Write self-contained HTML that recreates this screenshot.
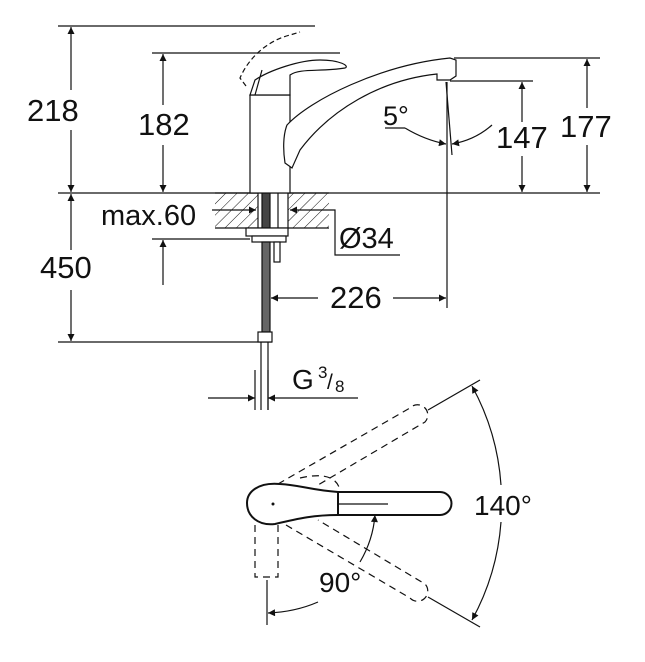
<!DOCTYPE html>
<html><head><meta charset="utf-8"><style>
html,body{margin:0;padding:0;background:#fff;}
svg{display:block;}
text{font-family:"Liberation Sans",sans-serif;fill:#111;}
</style></head><body>
<svg width="645" height="662" viewBox="0 0 645 662" xmlns="http://www.w3.org/2000/svg">
<defs>
<marker id="a" viewBox="0 0 10 10" refX="10" refY="5" markerWidth="14" markerHeight="7" markerUnits="userSpaceOnUse" orient="auto"><path d="M0,0 L10,5 L0,10z" fill="#111"/></marker>
<marker id="b" viewBox="0 0 10 10" refX="10" refY="5" markerWidth="18" markerHeight="7" orient="auto" markerUnits="userSpaceOnUse"><path d="M0,0 L10,5 L0,10z" fill="#111"/></marker>
<pattern id="h" width="8" height="8" patternUnits="userSpaceOnUse" patternTransform="rotate(45)"><line x1="0" y1="0" x2="0" y2="8" stroke="#111" stroke-width="1"/></pattern>
</defs>
<g stroke="#111" stroke-width="1.2" fill="none">
<line x1="58" y1="26" x2="315" y2="26"/>
<line x1="152" y1="53" x2="340" y2="53"/>
<line x1="454" y1="58" x2="600" y2="58"/>
<line x1="450" y1="81" x2="533" y2="81"/>
<line x1="58" y1="193" x2="600" y2="193"/>
<line x1="58" y1="342" x2="272" y2="342"/>
<line x1="152" y1="239" x2="250" y2="239"/>
<line x1="71" y1="90" x2="71" y2="27" marker-end="url(#b)"/>
<line x1="71" y1="130" x2="71" y2="192" marker-end="url(#b)"/>
<line x1="163" y1="105" x2="163" y2="54" marker-end="url(#b)"/>
<line x1="163" y1="145" x2="163" y2="192" marker-end="url(#b)"/>
<line x1="587" y1="108" x2="587" y2="59" marker-end="url(#b)"/>
<line x1="587" y1="145" x2="587" y2="192" marker-end="url(#b)"/>
<line x1="522" y1="122" x2="522" y2="82" marker-end="url(#b)"/>
<line x1="522" y1="156" x2="522" y2="192" marker-end="url(#b)"/>
<line x1="71" y1="250" x2="71" y2="194" marker-end="url(#b)"/>
<line x1="71" y1="290" x2="71" y2="341" marker-end="url(#b)"/>
<line x1="163" y1="285" x2="163" y2="240" marker-end="url(#b)"/>
<line x1="447" y1="82" x2="447" y2="308"/>
<line x1="446" y1="82" x2="452" y2="155"/>
<line x1="385" y1="128" x2="405" y2="128"/>
<path d="M405,128 Q425,140 446,144" marker-end="url(#a)"/>
<path d="M492,125 Q475,140 452,144" marker-end="url(#a)"/>
<line x1="318" y1="298" x2="271" y2="298" marker-end="url(#b)"/>
<line x1="393" y1="298" x2="446" y2="298" marker-end="url(#b)"/>
<rect x="215" y="193" width="114" height="35" fill="url(#h)" stroke="none"/>
<line x1="215" y1="193" x2="329" y2="193"/>
<line x1="215" y1="228" x2="329" y2="228"/>
<line x1="212" y1="210" x2="256" y2="210" marker-end="url(#a)"/>
<line x1="329" y1="210" x2="290" y2="210" marker-end="url(#a)"/>
<polyline points="329,210 335,210 335,255 400,255"/>
<rect x="258" y="193" width="30" height="35" fill="#fff"/>
<rect x="262" y="193" width="8" height="35" fill="#444"/>
<line x1="278" y1="193" x2="278" y2="228"/>
<rect x="246" y="228" width="42" height="8" fill="#fff"/>
<rect x="252" y="236" width="34" height="6" fill="#fff"/>
<rect x="262" y="242" width="8" height="90" fill="#666"/>
<rect x="274" y="242" width="6" height="20" fill="#fff"/>
<rect x="258" y="332" width="14" height="10" fill="#fff"/>
<line x1="261" y1="342" x2="261" y2="410"/>
<line x1="268" y1="342" x2="268" y2="410"/>
<rect x="250" y="95" width="40" height="98" fill="#fff"/>
<path d="M285,163 C283,150 283,135 287,125 C310,100 380,65 450,58 L456,60 L456,76 L450,80 L437,80 L437,74 C380,80 330,110 300,150 L292,168 Z" fill="#fff"/>
<path d="M290,95 L290,75 C300,68 320,72 345,68 C350,66 340,60 320,60 C300,60 270,70 255,80 L250,95 Z" fill="#fff"/>
<path d="M246,86 L240,78 C250,55 270,40 290,35 L300,32" stroke-dasharray="5,3"/>
<path d="M255,95 L262,70"/>
</g>
<text x="27" y="121" font-size="31">218</text>
<text x="138" y="135" font-size="31">182</text>
<text x="560" y="137" font-size="31">177</text>
<text x="496" y="148" font-size="31">147</text>
<text x="383" y="125" font-size="27">5°</text>
<text x="40" y="278" font-size="31">450</text>
<text x="330" y="308" font-size="31">226</text>
<text x="101" y="225" font-size="29">max.60</text>
<text x="339" y="248" font-size="29">Ø34</text>
<g stroke="#111" stroke-width="1.2" fill="none">
<line x1="208" y1="398" x2="255" y2="398" marker-end="url(#b)"/>
<line x1="358" y1="398" x2="268" y2="398" marker-end="url(#b)"/>
<line x1="255" y1="370" x2="255" y2="410"/>
<line x1="268" y1="370" x2="268" y2="410"/>
<path d="M338,492 L440,492 A11.5,11.5 0 0 1 440,515 L338,515" stroke-width="2"/>
<path d="M338,492 C310,490 300,485 280,484 C258,482 247,492 247,503 C247,516 258,526 275,524 C300,518 315,515 338,515" stroke-width="2" fill="#fff"/>
<line x1="338" y1="492" x2="338" y2="515" stroke-width="2"/>
<line x1="338" y1="504" x2="388" y2="504"/>
<g stroke-dasharray="7,5">
<path d="M278,484 L410,408 A10,10 0 0 1 425,422 L318,485"/>
<path d="M286,525 L410,598 A10,10 0 0 0 425,584 L318,520"/>
<path d="M255,525 L255,577 L278,577 L278,525"/>
<path d="M300,478 Q335,470 340,490"/>
</g>
<line x1="428" y1="410" x2="480" y2="380"/>
<line x1="428" y1="597" x2="480" y2="627"/>
<path d="M501,485 A240,240 0 0 0 472,386" marker-end="url(#b)"/>
<path d="M501,522 A240,240 0 0 1 472,620" marker-end="url(#b)"/>
<path d="M360,562 Q373,540 375,515" marker-end="url(#b)"/>
<path d="M318,602 Q295,612 268,613" marker-end="url(#b)"/>
<line x1="267" y1="580" x2="267" y2="625"/>
</g>
<circle cx="273" cy="504" r="1.5" fill="#111"/>
<text x="292" y="389" font-size="28">G</text>
<text x="318" y="378" font-size="17">3</text>
<text x="327" y="389" font-size="21">/</text>
<text x="335" y="392" font-size="17">8</text>
<text x="474" y="515" font-size="28">140°</text>
<text x="319" y="592" font-size="28">90°</text>
</svg>
</body></html>
